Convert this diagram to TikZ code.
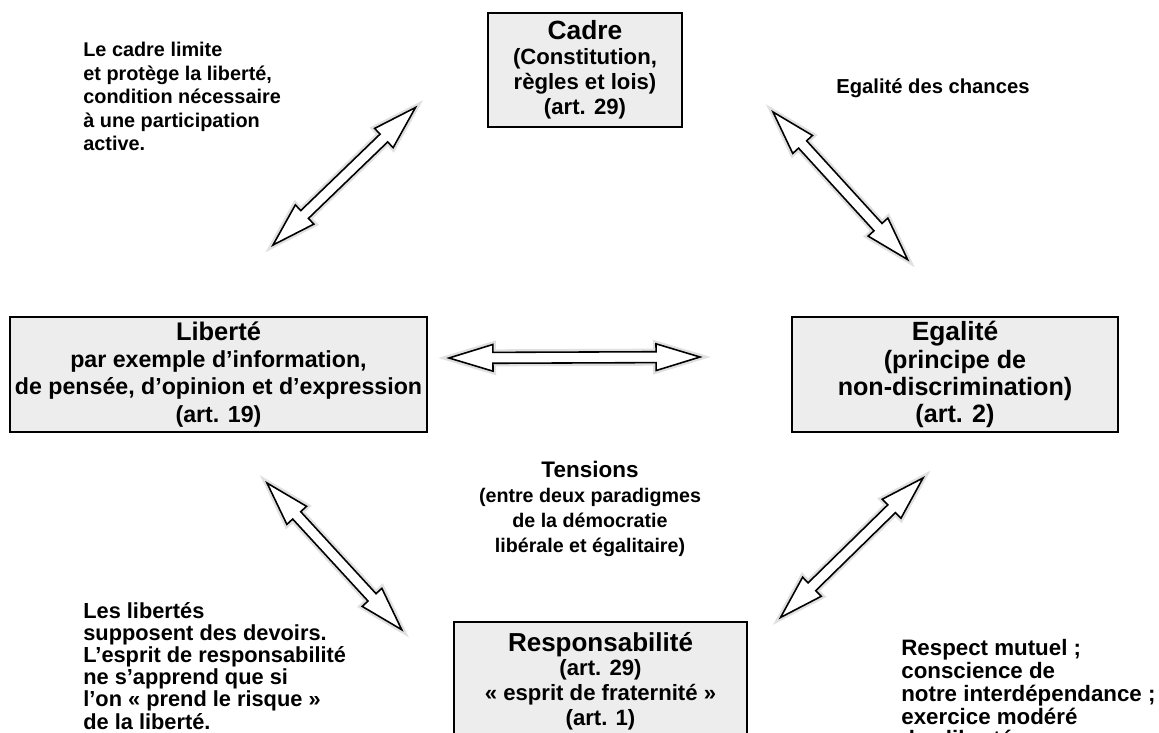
\documentclass[tikz,border=0pt]{standalone}
\usepackage{fontspec}
\setmainfont{Liberation Sans}
\usetikzlibrary{calc}

\begin{document}
\begin{tikzpicture}[x=0.02cm, y=-0.02cm,
  box/.style={draw, line width=0.8pt, fill=black!7, align=center, inner sep=0pt},
  note/.style={anchor=north west, align=left, inner sep=0pt, font=\bfseries\fontsize{12}{13.4}\selectfont},
  blockarrow/.style={draw, line width=0.9pt, fill=white, line join=miter,
    preaction={draw=black!12, line width=3.5pt},
    to path={let \p1=($(\tikztotarget)-(\tikztostart)$), \n1={atan2(\y1,\x1)}, \n2={veclen(\x1,\y1)} in
      [shift={(\tikztostart)}, rotate=\n1]
      (0,0) -- (25pt,7.6pt) -- (25pt,3.1pt) -- ({\n2-25pt},3.1pt) -- ({\n2-25pt},7.6pt) -- (\n2,0pt)
      -- ({\n2-25pt},-7.6pt) -- ({\n2-25pt},-3.1pt) -- (25pt,-3.1pt) -- (25pt,-7.6pt) -- cycle}}
]
\clip (0,0) rectangle (1159,733);

% boxes
\node[box, minimum width=3.88cm, minimum height=2.28cm, font=\bfseries\fontsize{12.6}{14.2}\selectfont](cadre) at (585,70)
  {{\fontsize{15}{17}\selectfont Cadre}\\(Constitution,\\règles et lois)\\(art. 29)};
\node[box, minimum width=8.34cm, minimum height=2.3cm, font=\bfseries\fontsize{13.2}{15.4}\selectfont](liberte) at (218.5,374.5)
  {{\fontsize{14.5}{17}\selectfont Liberté}\\par exemple d’information,\\de pensée, d’opinion et d’expression\\(art. 19)};
\node[box, minimum width=6.52cm, minimum height=2.3cm, font=\bfseries\fontsize{14.3}{15.4}\selectfont](egalite) at (955,374.5)
  {{\fontsize{15}{17}\selectfont Egalité}\\(principe de\\non-discrimination)\\(art. 2)};
\node[box, minimum width=5.86cm, minimum height=2.36cm, font=\bfseries\fontsize{12.6}{14}\selectfont](resp) at (600.5,681)
  {{\fontsize{14.8}{17}\selectfont Responsabilité}\\(art. 29)\\« esprit de fraternité »\\(art. 1)};

% free texts
\node[note, font=\bfseries\fontsize{11.3}{13.4}\selectfont](cadretxt) at (83,42)
  {Le cadre limite\\et protège la liberté,\\condition nécessaire\\à une participation\\active.};
\node[note, font=\bfseries\fontsize{11.5}{13.4}\selectfont](chances) at (836,78) {Egalité des chances};
\node[note, font=\bfseries\fontsize{12.4}{12.6}\selectfont](devoirs) at (83,602)
  {Les libertés\\supposent des devoirs.\\L’esprit de responsabilité\\ne s’apprend que si\\l’on « prend le risque »\\de la liberté.};
\node[note, font=\bfseries\fontsize{12.7}{13}\selectfont](respect) at (901,639)
  {Respect mutuel ;\\conscience de\\notre interdépendance ;\\exercice modéré\\des libertés.};
\node[align=center, inner sep=0pt, font=\bfseries\fontsize{11.2}{14.2}\selectfont](tensions) at (590,509)
  {{\fontsize{12.8}{14.2}\selectfont Tensions}\\(entre deux paradigmes\\de la démocratie\\libérale et égalitaire)};

% arrow ends
\coordinate (cl1) at (273,245);
\coordinate (cl2) at (416,107);
\coordinate (ce1) at (773,112);
\coordinate (ce2) at (908,260);
\coordinate (le1) at (449,358);
\coordinate (le2) at (700,357);
\coordinate (lr1) at (267,483);
\coordinate (lr2) at (402,630);
\coordinate (er1) at (923,478);
\coordinate (er2) at (780,618);

\path
(cl1) edge[blockarrow] (cl2)
(ce1) edge[blockarrow] (ce2)
(le1) edge[blockarrow] (le2)
(lr1) edge[blockarrow] (lr2)
(er1) edge[blockarrow] (er2);
\end{tikzpicture}
\end{document}
